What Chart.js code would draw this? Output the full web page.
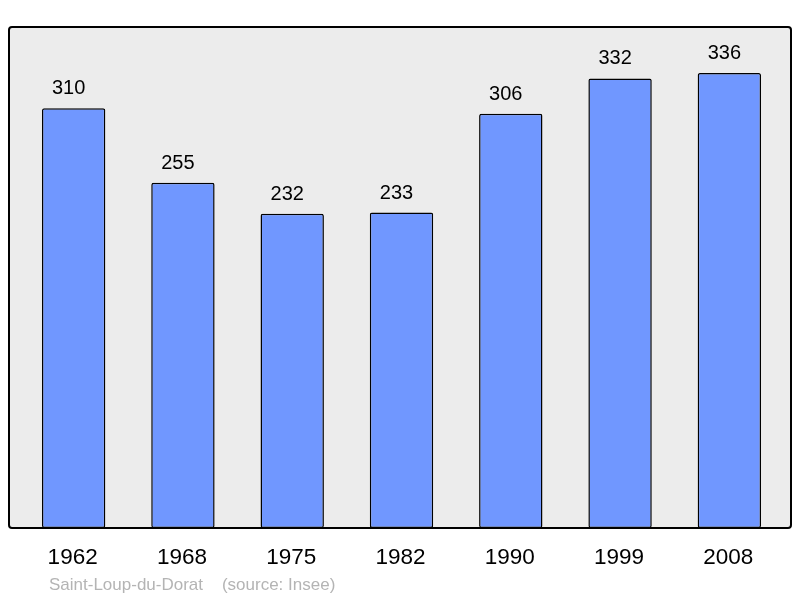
<!DOCTYPE html>
<html><head><meta charset="utf-8">
<script src="https://cdn.jsdelivr.net/npm/chart.js@4/dist/chart.umd.min.js"></script>
<style>html,body{margin:0;padding:0;background:#fff;}#wrap{width:800px;height:598px;}</style>
</head><body><div id="wrap"><canvas id="c" width="800" height="598"></canvas></div>
<script>
const years = ["1962","1968","1975","1982","1990","1999","2008"];
const population = [310,255,232,233,306,332,336];
const footerText = "Saint-Loup-du-Dorat    (source: Insee)";

function roundRect(ctx,x,y,w,h,r){ctx.beginPath();ctx.moveTo(x+r,y);ctx.lineTo(x+w-r,y);ctx.quadraticCurveTo(x+w,y,x+w,y+r);ctx.lineTo(x+w,y+h-r);ctx.quadraticCurveTo(x+w,y+h,x+w-r,y+h);ctx.lineTo(x+r,y+h);ctx.quadraticCurveTo(x,y+h,x,y+h-r);ctx.lineTo(x,y+r);ctx.quadraticCurveTo(x,y,x+r,y);ctx.closePath();}
const frame = {x:9,y:27,w:782,h:501};
const plugin = {
  id:'deco',
  beforeDatasetsDraw(chart){
    const ctx=chart.ctx;ctx.save();
    roundRect(ctx,frame.x,frame.y,frame.w,frame.h,3);
    ctx.fillStyle='#ececec';ctx.fill();ctx.restore();
  },
  afterDatasetsDraw(chart){
    const ctx=chart.ctx;ctx.save();
    roundRect(ctx,frame.x,frame.y,frame.w,frame.h,3);
    ctx.lineWidth=2;ctx.strokeStyle='#000';ctx.stroke();
    const xs=chart.scales.x, ys=chart.scales.y;
    ctx.fillStyle='#000';ctx.textAlign='center';ctx.textBaseline='alphabetic';
    ctx.font='20px "Liberation Sans", Arial, sans-serif';
    population.forEach((v,i)=>{ctx.fillText(String(v),xs.getPixelForValue(i)-5,ys.getPixelForValue(v)-14);});
    ctx.font='22.5px "Liberation Sans", Arial, sans-serif';
    years.forEach((y,i)=>{ctx.fillText(y,xs.getPixelForValue(i)-1,564);});
    ctx.font='17px "Liberation Sans", Arial, sans-serif';ctx.fillStyle='#b4b4b4';ctx.textAlign='left';
    ctx.fillText(footerText,49,590);
    ctx.restore();
  }
};
new Chart(document.getElementById('c'),{
  type:'bar',
  data:{labels:years,datasets:[{data:population,backgroundColor:'#7097ff',borderColor:'#000',borderWidth:1.5,borderRadius:2,borderSkipped:false,barPercentage:0.58,categoryPercentage:1}]},
  options:{responsive:false,animation:false,devicePixelRatio:1,
    layout:{padding:{left:19,right:16,top:27,bottom:70}},
    plugins:{legend:{display:false},tooltip:{enabled:false}},
    scales:{x:{display:false},y:{display:false,min:0,max:370}}
  },
  plugins:[plugin]
});
</script></body></html>
